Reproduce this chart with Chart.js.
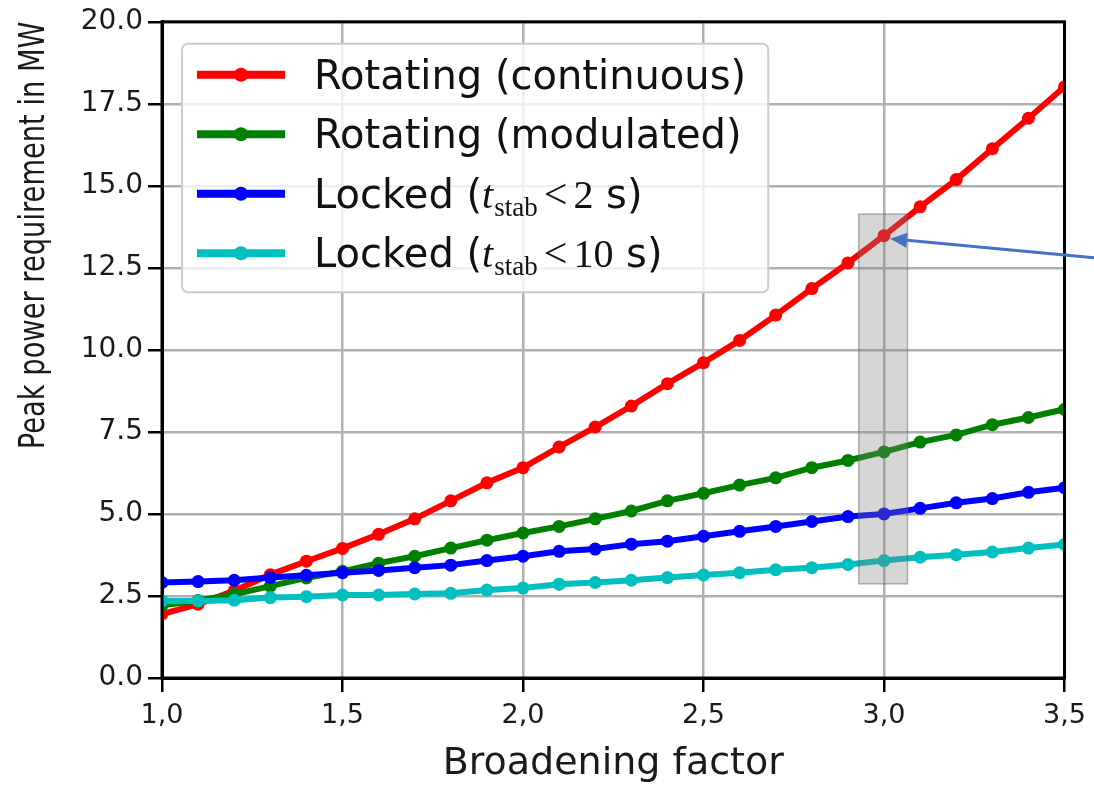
<!DOCTYPE html>
<html>
<head>
<meta charset="utf-8">
<script src="https://cdn.jsdelivr.net/npm/chart.js@4.4.1/dist/chart.umd.min.js"></script>
<style>
  html, body { margin: 0; padding: 0; background: #fff; }
  canvas { display: block; }
</style>
</head>
<body>
<canvas id="mychart" width="1094" height="787"></canvas>
<script>
// broadening factor (x) and the four curves
var broadening = [1.0, 1.1, 1.2, 1.3, 1.4, 1.5, 1.6, 1.7, 1.8, 1.9, 2.0, 2.1, 2.2,
                  2.3, 2.4, 2.5, 2.6, 2.7, 2.8, 2.9, 3.0, 3.1, 3.2, 3.3, 3.4, 3.5];
var rotatingContinuous = [1.95, 2.25, 2.66, 3.15, 3.56, 3.95, 4.38, 4.85, 5.40, 5.95, 6.41, 7.04, 7.65,
                          8.29, 8.97, 9.61, 10.29, 11.06, 11.87, 12.65, 13.48, 14.36, 15.19, 16.13, 17.06, 18.02];
var rotatingModulated = [2.22, 2.36, 2.55, 2.80, 3.05, 3.25, 3.50, 3.71, 3.96, 4.20, 4.42, 4.62, 4.85,
                         5.09, 5.40, 5.63, 5.88, 6.10, 6.41, 6.63, 6.89, 7.19, 7.41, 7.72, 7.94, 8.19];
var locked2s = [2.91, 2.94, 2.98, 3.06, 3.13, 3.21, 3.28, 3.36, 3.44, 3.58, 3.71, 3.86, 3.93,
                4.08, 4.17, 4.32, 4.47, 4.62, 4.77, 4.92, 5.00, 5.17, 5.34, 5.47, 5.66, 5.80];
var locked10s = [2.35, 2.35, 2.37, 2.45, 2.48, 2.53, 2.53, 2.56, 2.58, 2.68, 2.74, 2.86, 2.91,
                 2.98, 3.06, 3.14, 3.21, 3.30, 3.36, 3.46, 3.58, 3.68, 3.76, 3.84, 3.96, 4.07];

var seriesLabels = ["Rotating (continuous)", "Rotating (modulated)",
                    "Locked (t_stab < 2 s)", "Locked (t_stab < 10 s)"];
var seriesColors = ["#ff0000", "#008000", "#0000ff", "#00bfbf"];

var xTickLabels = ["1,0", "1,5", "2,0", "2,5", "3,0", "3,5"];
var yTickLabels = ["0.0", "2.5", "5.0", "7.5", "10.0", "12.5", "15.0", "17.5", "20.0"];
var yTitle = "Peak power requirement in MW";

// grey highlight box around the 3.0 column (data units)
var highlightX = [2.93, 3.065];
var highlightY = [2.87, 14.14];
var highlightIndex = 20;

Chart.defaults.font.family = "'DejaVu Sans', sans-serif";
Chart.defaults.color = "#1a1a1a";

function pairs(ys) {
   return broadening.map(function (x, i) { return { x: x, y: ys[i] }; });
}

function makeSet(i, ys) {
   return {
      label: seriesLabels[i],
      data: pairs(ys),
      borderColor: seriesColors[i],
      backgroundColor: seriesColors[i],
      borderWidth: 6,
      pointRadius: 6.5,
      pointHoverRadius: 6.5,
      pointBorderWidth: 0,
      tension: 0,
      clip: 0,
      order: 4 - i,
   };
}

function drawLabel(ctx, text, x, y) {
   var m = text.match(/^(.*\()t_stab < (\d+)( s\))$/);
   ctx.fillStyle = "#111111";
   ctx.textAlign = "left";
   ctx.textBaseline = "alphabetic";
   ctx.font = "40px 'DejaVu Sans'";
   if (!m) {
      ctx.fillText(text, x, y);
      return;
   }
   var cx = x;
   ctx.fillText(m[1], cx, y);
   cx += ctx.measureText(m[1]).width;
   ctx.font = "italic 40px 'Liberation Serif'";
   ctx.fillText("t", cx, y);
   cx += ctx.measureText("t").width + 1;
   ctx.font = "27px 'Liberation Serif'";
   ctx.fillText("stab", cx, y + 8);
   cx += ctx.measureText("stab").width + 6;
   ctx.font = "42px 'Liberation Serif'";
   ctx.fillText("<", cx, y);
   cx += ctx.measureText("<").width + 6;
   ctx.font = "40px 'Liberation Serif'";
   ctx.fillText(m[2], cx, y);
   cx += ctx.measureText(m[2]).width;
   ctx.font = "40px 'DejaVu Sans'";
   ctx.fillText(m[3], cx, y);
}

function roundRect(ctx, x, y, w, h, r) {
   ctx.beginPath();
   ctx.moveTo(x + r, y);
   ctx.lineTo(x + w - r, y);
   ctx.arcTo(x + w, y, x + w, y + r, r);
   ctx.lineTo(x + w, y + h - r);
   ctx.arcTo(x + w, y + h, x + w - r, y + h, r);
   ctx.lineTo(x + r, y + h);
   ctx.arcTo(x, y + h, x, y + h - r, r);
   ctx.lineTo(x, y + r);
   ctx.arcTo(x, y, x + r, y, r);
   ctx.closePath();
}

var overlay = {
   id: "overlay",
   afterDatasetsDraw: function (chart) {
      var ctx = chart.ctx;
      var area = chart.chartArea;
      var xs = chart.scales.x, ys = chart.scales.y;
      ctx.save();

      // highlight box
      var bx0 = xs.getPixelForValue(highlightX[0]), bx1 = xs.getPixelForValue(highlightX[1]);
      var by0 = ys.getPixelForValue(highlightY[1]), by1 = ys.getPixelForValue(highlightY[0]);
      ctx.fillStyle = "rgba(128,128,128,0.32)";
      ctx.fillRect(bx0, by0, bx1 - bx0, by1 - by0);
      ctx.strokeStyle = "rgba(90,90,90,0.45)";
      ctx.lineWidth = 1.5;
      ctx.strokeRect(bx0, by0, bx1 - bx0, by1 - by0);

      // full frame like matplotlib spines
      ctx.strokeStyle = "#000000";
      ctx.lineWidth = 3;
      ctx.strokeRect(area.left, area.top, area.right - area.left, area.bottom - area.top);

      // y axis title, drawn narrow like the original
      ctx.save();
      ctx.translate(35, (area.top + 2 + area.top + 425) / 2);
      ctx.rotate(-Math.PI / 2);
      ctx.scale(0.78, 1);
      ctx.font = "35px 'DejaVu Sans'";
      ctx.fillStyle = "#1a1a1a";
      ctx.textAlign = "center";
      ctx.textBaseline = "middle";
      ctx.fillText(yTitle, 0, 0);
      ctx.restore();

      // legend
      var lx = area.left + 20, ly = area.top + 22, rowH = 59.5;
      var maxW = 0;
      ctx.font = "40px 'DejaVu Sans'";
      seriesLabels.forEach(function (t) { maxW = Math.max(maxW, ctx.measureText(t).width); });
      var lw = 132 + maxW + 5, lh = rowH * 3 + 31 + 39;
      roundRect(ctx, lx, ly, lw, lh, 6);
      ctx.fillStyle = "rgba(255,255,255,0.8)";
      ctx.fill();
      ctx.strokeStyle = "#cccccc";
      ctx.lineWidth = 2;
      ctx.stroke();
      seriesLabels.forEach(function (t, i) {
         var cy = ly + 31 + i * rowH;
         ctx.strokeStyle = seriesColors[i];
         ctx.lineWidth = 8;
         ctx.lineCap = "butt";
         ctx.beginPath();
         ctx.moveTo(lx + 15, cy);
         ctx.lineTo(lx + 103, cy);
         ctx.stroke();
         ctx.fillStyle = seriesColors[i];
         ctx.beginPath();
         ctx.arc(lx + 59, cy, 7, 0, Math.PI * 2);
         ctx.fill();
         drawLabel(ctx, t, lx + 132, cy + 14);
      });

      // pointer arrow to the highlighted point
      var tipX = xs.getPixelForValue(broadening[highlightIndex]) + 6;
      var tipY = ys.getPixelForValue(rotatingContinuous[highlightIndex]) + 3;
      var sx = chart.width, sy = tipY + 19;
      var ang = Math.atan2(sy - tipY, sx - tipX);
      var hl = 17, hw = 7.5;
      var baseX = tipX + Math.cos(ang) * hl, baseY = tipY + Math.sin(ang) * hl;
      ctx.strokeStyle = "#4472c4";
      ctx.fillStyle = "#4472c4";
      ctx.lineWidth = 3;
      ctx.beginPath();
      ctx.moveTo(sx, sy);
      ctx.lineTo(baseX, baseY);
      ctx.stroke();
      ctx.beginPath();
      ctx.moveTo(tipX, tipY);
      ctx.lineTo(baseX - Math.sin(ang) * hw, baseY + Math.cos(ang) * hw);
      ctx.lineTo(baseX + Math.sin(ang) * hw, baseY - Math.cos(ang) * hw);
      ctx.closePath();
      ctx.fill();

      ctx.restore();
   },
};

var canvas = document.getElementById("mychart");

var chart = new Chart(canvas, {
   type: "line",
   data: {
      datasets: [
         makeSet(0, rotatingContinuous),
         makeSet(1, rotatingModulated),
         makeSet(2, locked2s),
         makeSet(3, locked10s),
      ],
   },
   options: {
      responsive: false,
      animation: false,
      devicePixelRatio: 1,
      layout: { padding: { top: 18, right: 26, left: 0, bottom: 0 } },
      plugins: {
         legend: { display: false },
         tooltip: { enabled: false },
      },
      scales: {
         x: {
            type: "linear",
            min: 1,
            max: 3.5,
            ticks: {
               stepSize: 0.5,
               padding: 8,
               maxRotation: 0,
               autoSkip: false,
               font: { size: 27 },
               callback: function (v, i) { return xTickLabels[i]; },
            },
            grid: { color: "#b0b0b0", lineWidth: 2.5, tickColor: "#000000", tickLength: 14, tickWidth: 2.5 },
            border: { color: "#000000", width: 3 },
            title: { display: true, text: "Broadening factor", font: { size: 38 }, padding: { top: 0, bottom: 0 } },
            afterFit: function (s) { s.height = 109; },
         },
         y: {
            min: 0,
            max: 20,
            ticks: {
               stepSize: 2.5,
               padding: 5,
               font: { size: 28 },
               callback: function (v, i) { return yTickLabels[i]; },
            },
            grid: { color: "#b0b0b0", lineWidth: 2.5, tickColor: "#000000", tickLength: 14, tickWidth: 2.5 },
            border: { color: "#000000", width: 3 },
            title: { display: false, text: yTitle },
            afterFit: function (s) { s.width = 162; },
         },
      },
   },
   plugins: [overlay],
});
</script>
</body>
</html>
